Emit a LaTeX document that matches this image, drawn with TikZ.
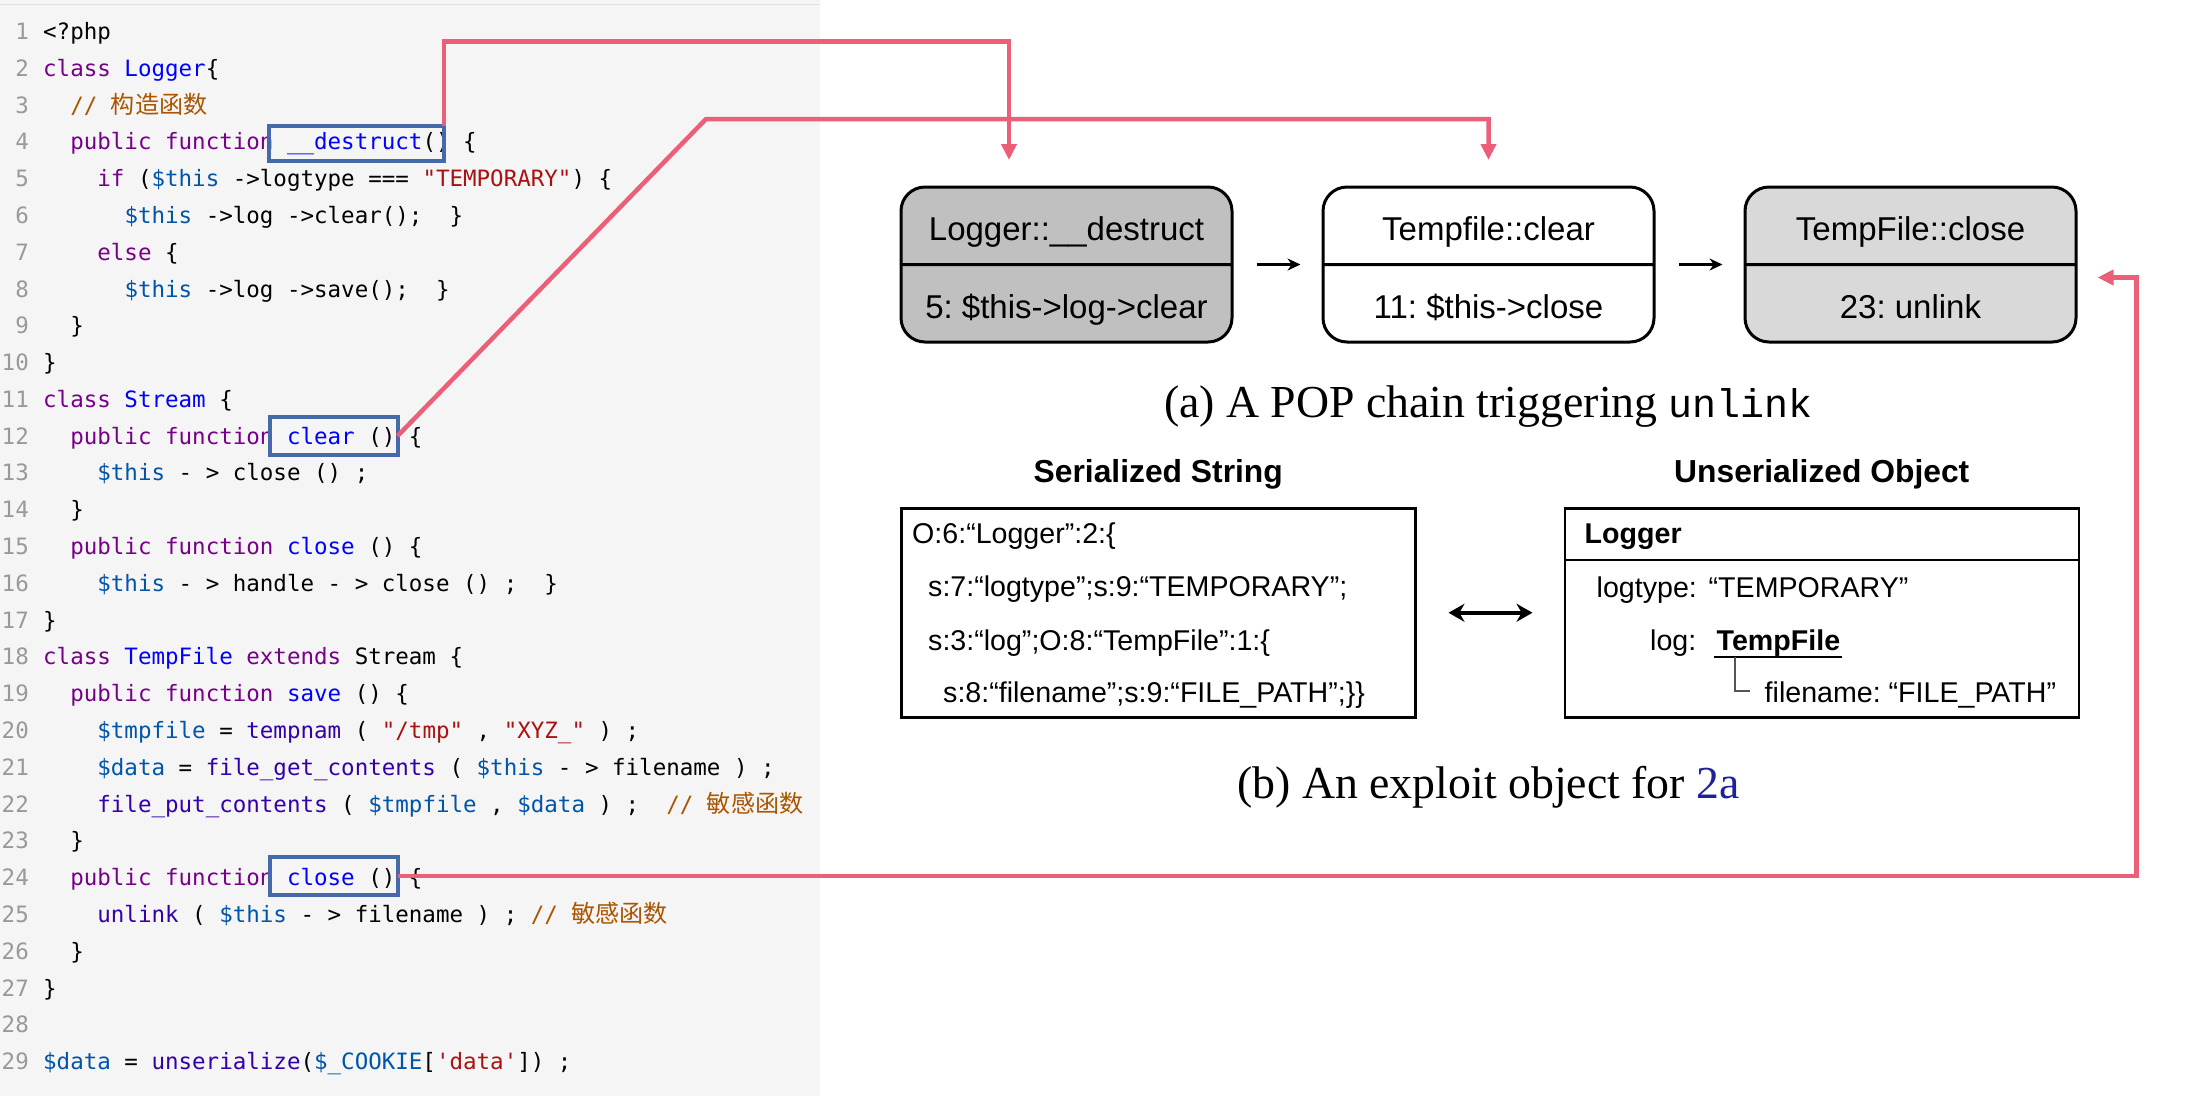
\documentclass[tikz,border=0pt]{standalone}
\usepackage{fontspec}
\setmonofont{DejaVu Sans Mono}
\newfontfamily\arialfont{Liberation Sans}
\newfontfamily\serfont{Liberation Serif}
\newfontfamily\courfont{Liberation Mono}
\newfontfamily\cjkfont[Scale=1.07]{Noto Sans CJK SC}
\usetikzlibrary{positioning, arrows.meta, shapes.multipart}

\definecolor{cmkw}{HTML}{770088}
\definecolor{cmdef}{HTML}{0000FF}
\definecolor{cmvar}{HTML}{0055AA}
\definecolor{cmstr}{HTML}{AA1111}
\definecolor{cmcmt}{HTML}{AA5500}
\definecolor{cmbi}{HTML}{3300AA}
\definecolor{lnumgray}{HTML}{999999}
\definecolor{panelbg}{HTML}{F5F5F5}
\definecolor{panelline}{HTML}{E2E2E2}
\definecolor{hlblue}{HTML}{456AAA}
\definecolor{linkpink}{HTML}{EB6078}
\definecolor{boxdark}{HTML}{C0C0C0}
\definecolor{boxlight}{HTML}{D9D9D9}
\definecolor{treegray}{HTML}{555555}
\definecolor{citeblue}{HTML}{20209A}

\newcommand{\ckw}[1]{\textcolor{cmkw}{#1}}
\newcommand{\cdf}[1]{\textcolor{cmdef}{#1}}
\newcommand{\cvar}[1]{\textcolor{cmvar}{#1}}
\newcommand{\cstr}[1]{\textcolor{cmstr}{#1}}
\newcommand{\ccmt}[1]{\textcolor{cmcmt}{#1}}
\newcommand{\cbi}[1]{\textcolor{cmbi}{#1}}
\newcommand{\poptext}[1]{\rule[-1.5pt]{0pt}{32.5pt}\smash{#1}}

\frenchspacing

\begin{document}
\begin{tikzpicture}[
    x=1pt, y=-1pt,
    code/.style={font=\ttfamily\fontsize{22.5}{22.5}\selectfont, anchor=base west, inner sep=0pt},
    ind/.style={xshift=#1*13.55pt},
    lnum/.style={font=\ttfamily\fontsize{22.5}{22.5}\selectfont, text=lnumgray, anchor=base east, inner sep=0pt},
    hlbox/.style={draw=hlblue, line width=4pt, inner sep=0pt, outer sep=0pt},
    pinkarr/.style={draw=linkpink, line width=4.5pt, -{Triangle[length=16pt,width=15pt]}},
    popbox/.style={rectangle split, rectangle split parts=2, draw, line width=3pt, rounded corners=24pt,
        minimum width=331pt, inner xsep=6pt, inner ysep=21pt,
        font=\arialfont\fontsize{33}{33}\selectfont},
    flowarr/.style={-{Stealth[length=13pt,width=12pt]}, line width=3pt, shorten <=23pt, shorten >=21pt},
    capt/.style={font=\serfont\fontsize{45.8}{45.8}\selectfont, anchor=base, inner sep=0pt},
    head/.style={font=\arialfont\bfseries\fontsize{31.8}{31.8}\selectfont, anchor=base, inner sep=0pt},
    serbox/.style={draw, line width=2.5pt, minimum width=514pt, minimum height=209pt, inner sep=0pt},
    sertext/.style={font=\arialfont\fontsize{28.6}{28.6}\selectfont, anchor=base west, inner sep=0pt},
    dblarr/.style={{Stealth[length=16pt,width=18pt]}-{Stealth[length=16pt,width=18pt]}, line width=4.5pt,
        shorten <=32pt, shorten >=31pt},
    treeline/.style={draw=treegray, line width=2pt}
]
    \useasboundingbox (0,0) rectangle (2190,1096);
    \fill[white] (0,0) rectangle (2190,1096);

    % code panel
    \fill[panelbg] (0,0) rectangle (820,1096);
    \draw[panelline, line width=1.5pt] (0,4.5) -- (820,4.5);
    \foreach \n in {1,...,29} {
        \coordinate (r\n) at (43,{39.5+(\n-1)*36.79});
        \node[lnum] (n\n) at (29,{39.5+(\n-1)*36.79}) {\n};
    }
    \node[code] (c1) at (r1) {<?php};
    \node[code] (c2) at (r2) {\ckw{class} \cdf{Logger}\{};
    \node[code, ind=2] (c3) at (r3) {\ccmt{// {\cjkfont 构造函数}}};
    \node[code, ind=2] (c4) at (r4) {\ckw{public function} \cdf{\_\_destruct}() \{};
    \node[code, ind=4] (c5) at (r5) {\ckw{if} (\cvar{\$this} ->logtype === \cstr{"TEMPORARY"}) \{};
    \node[code, ind=6] (c6) at (r6) {\cvar{\$this} ->log ->clear();~~\}};
    \node[code, ind=4] (c7) at (r7) {\ckw{else} \{};
    \node[code, ind=6] (c8) at (r8) {\cvar{\$this} ->log ->save();~~\}};
    \node[code, ind=2] (c9) at (r9) {\}};
    \node[code] (c10) at (r10) {\}};
    \node[code] (c11) at (r11) {\ckw{class} \cdf{Stream} \{};
    \node[code, ind=2] (c12) at (r12) {\ckw{public function} \cdf{clear} () \{};
    \node[code, ind=4] (c13) at (r13) {\cvar{\$this} - > close () ;};
    \node[code, ind=2] (c14) at (r14) {\}};
    \node[code, ind=2] (c15) at (r15) {\ckw{public function} \cdf{close} () \{};
    \node[code, ind=4] (c16) at (r16) {\cvar{\$this} - > handle - > close () ;~~\}};
    \node[code] (c17) at (r17) {\}};
    \node[code] (c18) at (r18) {\ckw{class} \cdf{TempFile} \ckw{extends} Stream \{};
    \node[code, ind=2] (c19) at (r19) {\ckw{public function} \cdf{save} () \{};
    \node[code, ind=4] (c20) at (r20) {\cvar{\$tmpfile} = \cbi{tempnam} ( \cstr{"/tmp"} , \cstr{"XYZ\_"} ) ;};
    \node[code, ind=4] (c21) at (r21) {\cvar{\$data} = \cbi{file\_get\_contents} ( \cvar{\$this} - > filename ) ;};
    \node[code, ind=4] (c22) at (r22) {\cbi{file\_put\_contents} ( \cvar{\$tmpfile} , \cvar{\$data} ) ;~~\ccmt{// {\cjkfont 敏感函数}}};
    \node[code, ind=2] (c23) at (r23) {\}};
    \node[code, ind=2] (c24) at (r24) {\ckw{public function} \cdf{close} () \{};
    \node[code, ind=4] (c25) at (r25) {\cbi{unlink} ( \cvar{\$this} - > filename ) ; \ccmt{// {\cjkfont 敏感函数}}};
    \node[code, ind=2] (c26) at (r26) {\}};
    \node[code] (c27) at (r27) {\}};
    \node[code] (c29) at (r29) {\cvar{\$data} = \cbi{unserialize}(\cvar{\$\_COOKIE}[\cstr{'data'}]) ;};

    \node[hlbox, minimum width=175pt, minimum height=34.5pt] (hlA) at (356.5,143.25) {};
    \node[hlbox, minimum width=128pt, minimum height=38pt] (hlB) at (333.5,436) {};
    \node[hlbox, minimum width=128pt, minimum height=38pt] (hlC) at (333.5,876) {};

    % (a) POP chain
    \node[popbox, fill=boxdark, anchor=north west] (b1) at (899.5,185.5)
        {\poptext{Logger::\_\_destruct} \nodepart{second} \poptext{5: \$this->log->clear}};
    \node[popbox, fill=white, right=88pt of b1] (b2)
        {\poptext{Tempfile::clear} \nodepart{second} \poptext{11: \$this->close}};
    \node[popbox, fill=boxlight, right=88pt of b2] (b3)
        {\poptext{TempFile::close} \nodepart{second} \poptext{23: unlink}};
    \draw[flowarr] (b1) -- (b2);
    \draw[flowarr] (b2) -- (b3);
    \node[capt] (capa) at ([yshift=-74pt]b2.south) {(a) A POP chain triggering {\courfont\fontsize{40}{40}\selectfont unlink}};

    % (b) exploit object
    \node[serbox, anchor=north west] (ser) at (900,507) {};
    \node[serbox, right=147pt of ser] (obj) {};
    \node[head] (hser) at ([yshift=25pt]ser.north) {Serialized String};
    \node[head] (hobj) at ([yshift=25pt]obj.north) {Unserialized Object};

    \node[sertext] (s1) at ([xshift=12pt,yshift=-36pt]ser.north west) {O:6:“Logger”:2:\{};
    \node[sertext] (s2) at ([xshift=28pt,yshift=-89pt]ser.north west) {s:7:“logtype”;s:9:“TEMPORARY”;};
    \node[sertext] (s3) at ([xshift=28pt,yshift=-143pt]ser.north west) {s:3:“log”;O:8:“TempFile”:1:\{};
    \node[sertext] (s4) at ([xshift=43pt,yshift=-195pt]ser.north west) {s:8:“filename”;s:9:“FILE\_PATH”;\}\}};

    \draw[line width=2.5pt] ([yshift=-53pt]obj.north west) -- ([yshift=-53pt]obj.north east);
    \node[sertext, font=\arialfont\bfseries\fontsize{28.6}{28.6}\selectfont] (o1)
        at ([xshift=21pt,yshift=-36pt]obj.north west) {Logger};
    \node[sertext] (o2) at ([xshift=33pt,yshift=-90pt]obj.north west) {logtype:};
    \node[sertext] (o3) at ([xshift=145pt,yshift=-90pt]obj.north west) {“TEMPORARY”};
    \node[sertext, anchor=base east] (o4) at ([xshift=133pt,yshift=-143pt]obj.north west) {log:};
    \node[sertext, font=\arialfont\bfseries\fontsize{28.6}{28.6}\selectfont] (tf)
        at ([xshift=153pt,yshift=-143pt]obj.north west) {TempFile};
    \node[sertext] (fn) at ([xshift=201pt,yshift=-195pt]obj.north west) {filename: “FILE\_PATH”};
    \draw[line width=2.2pt] ([xshift=-3pt,yshift=-1pt]tf.south west) -- ([xshift=2pt,yshift=-1pt]tf.south east);
    \draw[treeline] ([xshift=18pt,yshift=-1pt]tf.south west) |- ([xshift=-15pt,yshift=3pt]fn.west);
    \draw[dblarr] (ser) -- (obj);

    \node[capt, yshift=-80pt] (capb) at (capa |- ser.south) {(b) An exploit object for \textcolor{citeblue}{2a}};

    % pink links from code to chain
    \coordinate (inA) at ([xshift=109.5pt,yshift=25.5pt]b1.north west);
    \coordinate (inB) at ([yshift=25.5pt]b2.north);
    \coordinate (inC) at ([xshift=20pt,yshift=-13pt]b3.east);
    \draw[pinkarr] (hlA.north east) -- ++(0,-84.5) -| (inA);
    \draw[pinkarr] (hlB.east) -- (706,119) -| (inB);
    \draw[pinkarr] (hlC.east) -| ([xshift=39pt]inC) -- (inC);
\end{tikzpicture}
\end{document}
